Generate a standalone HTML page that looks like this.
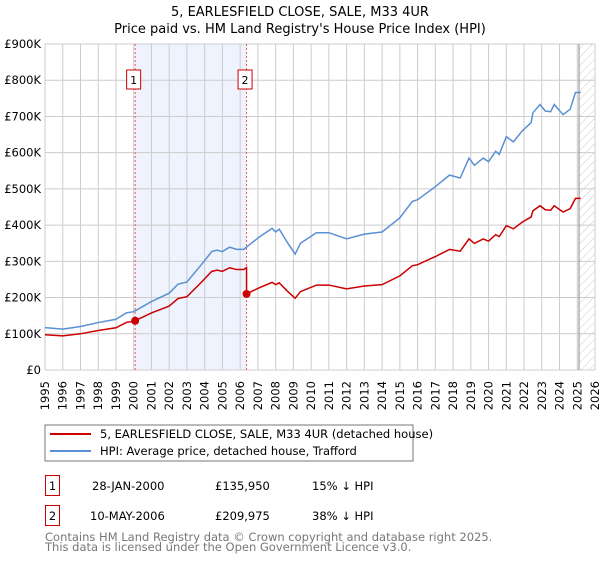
<!DOCTYPE html>
<html><head><meta charset="utf-8"><style>
body{margin:0;background:#fff;font-family:"Liberation Sans","DejaVu Sans",sans-serif}
</style></head><body>
<svg width="600" height="560" xmlns="http://www.w3.org/2000/svg" font-family="DejaVu Sans, Liberation Sans, sans-serif">
<text x="300" y="16" text-anchor="middle" font-size="13">5, EARLESFIELD CLOSE, SALE, M33 4UR</text>
<text x="300" y="33" text-anchor="middle" font-size="13">Price paid vs. HM Land Registry's House Price Index (HPI)</text>
<defs><pattern id="hatch" width="6" height="6" patternUnits="userSpaceOnUse" patternTransform="rotate(45)"><line x1="0" y1="0" x2="0" y2="6" stroke="#ccc" stroke-width="1"/></pattern></defs>
<g id="plot"></g>
<rect x="45" y="425" width="368" height="36" fill="#fff" stroke="#777"/>
<line x1="50" y1="434" x2="91" y2="434" stroke="#cc0000" stroke-width="2"/>
<text x="100" y="438" font-size="11.5">5, EARLESFIELD CLOSE, SALE, M33 4UR (detached house)</text>
<line x1="50" y1="451" x2="91" y2="451" stroke="#5b8fd4" stroke-width="2"/>
<text x="100" y="455" font-size="11.5">HPI: Average price, detached house, Trafford</text>
<g font-size="11.5">
<rect x="45.5" y="475.5" width="14" height="20" fill="#fff" stroke="#cc0000"/>
<text x="52.5" y="490" text-anchor="middle">1</text>
<text x="92" y="490">28-JAN-2000</text>
<text x="215" y="490">£135,950</text>
<text x="312" y="490">15% ↓ HPI</text>
<rect x="45.5" y="505.5" width="14" height="20" fill="#fff" stroke="#cc0000"/>
<text x="52.5" y="520" text-anchor="middle">2</text>
<text x="90" y="520">10-MAY-2006</text>
<text x="215" y="520">£209,975</text>
<text x="312" y="520">38% ↓ HPI</text>
</g>
<text x="45" y="541" font-size="11.5" fill="#777">Contains HM Land Registry data © Crown copyright and database right 2025.</text>
<text x="45" y="551" font-size="11.5" fill="#777">This data is licensed under the Open Government Licence v3.0.</text>
</svg>
<script>
const hpiYears=[1995,1996,1997,1998,1999,1999.6,2000,2001,2002,2002.5,2003,2003.8,2004.4,2004.7,2005,2005.4,2005.8,2006.2,2006.5,2007.1,2007.8,2008,2008.2,2008.7,2009.1,2009.4,2010.3,2011,2012,2013,2014,2015,2015.7,2016,2017,2017.8,2018.4,2018.9,2019.2,2019.7,2020,2020.4,2020.6,2021,2021.4,2021.9,2022.4,2022.5,2022.9,2023.2,2023.5,2023.7,2024.2,2024.6,2024.9,2025.2];
const hpiValues=[117,113,120,131,140,158,161,189,212,237,243,290,327,331,327,339,333,333,345,368,391,381,389,349,320,350,379,379,362,375,381,420,465,470,506,538,530,585,565,585,575,604,595,644,630,660,683,710,733,715,713,733,705,720,766,766];
const saleYears=[2000.08,2006.36];
const salePrices=[135950,209975];
const yTicks=[0,100,200,300,400,500,600,700,800,900];
const yTickLabels=["£0","£100K","£200K","£300K","£400K","£500K","£600K","£700K","£800K","£900K"];
const xTicks=[1995,1996,1997,1998,1999,2000,2001,2002,2003,2004,2005,2006,2007,2008,2009,2010,2011,2012,2013,2014,2015,2016,2017,2018,2019,2020,2021,2022,2023,2024,2025,2026];
const X0=45,X1=595,Y0=370,Y1=44;
const xs=y=>X0+(y-1995)/(2026-1995)*(X1-X0);
const ys=v=>Y0-v/900*(Y0-Y1);
const NS="http://www.w3.org/2000/svg";
const g=document.getElementById('plot');
function mk(t,a){const e=document.createElementNS(NS,t);for(const k in a)e.setAttribute(k,a[k]);g.appendChild(e);return e;}
function hpiAt(y){for(let i=1;i<hpiYears.length;i++){if(y<=hpiYears[i]){const t=(y-hpiYears[i-1])/(hpiYears[i]-hpiYears[i-1]);return hpiValues[i-1]+t*(hpiValues[i]-hpiValues[i-1]);}}return hpiValues[hpiValues.length-1];}
let e=mk('rect',{x:xs(saleYears[0]),y:Y1,width:xs(saleYears[1])-xs(saleYears[0]),height:Y0-Y1,fill:'#eef3fd'});

e=mk('rect',{x:xs(2025.1),y:Y1,width:X1-xs(2025.1),height:Y0-Y1,fill:'url(#hatch)'});

xTicks.forEach(t=>{const l=mk('line',{x1:xs(t),x2:xs(t),y1:Y1,y2:Y0,stroke:'#ccc'});

const tx=mk('text',{transform:`translate(${xs(t)+4},381) rotate(-90)`,'text-anchor':'end','font-size':'11.5'});tx.textContent=t;
});
yTicks.forEach((t,i)=>{const l=mk('line',{x1:X0,x2:X1,y1:ys(t),y2:ys(t),stroke:'#ccc'});

const tx=mk('text',{x:X0-4,y:ys(t)+4,'text-anchor':'end','font-size':'11.5'});tx.textContent=yTickLabels[i];
});
e=mk('line',{x1:xs(2025.1),x2:xs(2025.1),y1:Y1,y2:Y0,stroke:'#888'});

saleYears.forEach((s,i)=>{const l=mk('line',{x1:xs(s),x2:xs(s),y1:Y1,y2:Y0,stroke:'#e55','stroke-dasharray':'2,2'});

const r=mk('rect',{x:xs(s)-8.5,y:70,width:14,height:19,fill:'#fff',stroke:'#cc0000'});

const t=mk('text',{x:xs(s)-1.5,y:84,'text-anchor':'middle','font-size':'11'});t.textContent=i+1;
});
e=mk('polyline',{points:hpiYears.map((y,i)=>xs(y)+','+ys(hpiValues[i])).join(' '),fill:'none',stroke:'#5b8fd4','stroke-width':1.5});

const r1=salePrices[0]/1000/hpiAt(saleYears[0]),r2=salePrices[1]/1000/hpiAt(saleYears[1]);
const pts=[];
hpiYears.forEach((y,i)=>{if(y<saleYears[1])pts.push([y,hpiValues[i]*r1]);});
pts.push([saleYears[1],hpiAt(saleYears[1])*r1]);pts.push([saleYears[1],salePrices[1]/1000]);
hpiYears.forEach((y,i)=>{if(y>saleYears[1])pts.push([y,hpiValues[i]*r2]);});
e=mk('polyline',{points:pts.map(p=>xs(p[0])+','+ys(p[1])).join(' '),fill:'none',stroke:'#cc0000','stroke-width':1.5});

saleYears.forEach((s,i)=>{const c=mk('circle',{cx:xs(s),cy:ys(salePrices[i]/1000),r:4,fill:'#cc0000'});
});
</script>
</body></html>
